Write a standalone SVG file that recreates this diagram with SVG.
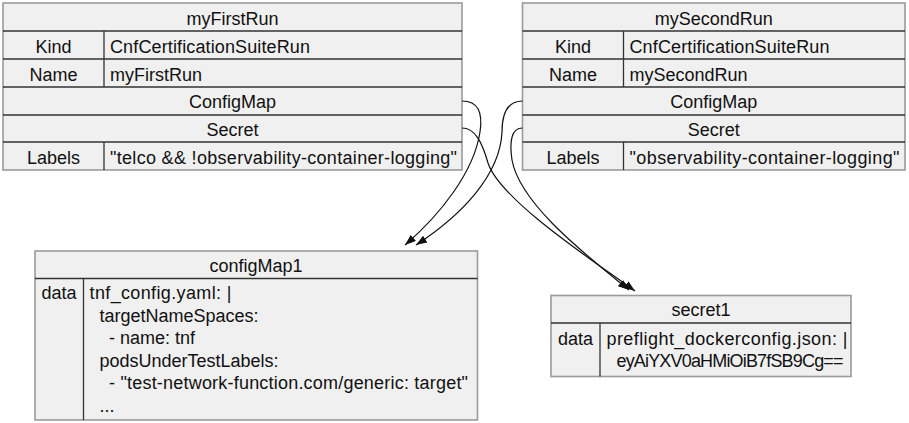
<svg xmlns="http://www.w3.org/2000/svg" width="909" height="423" viewBox="0 0 909 423">
<defs>
<style>
.box{fill:#f0f0f0;stroke:#9a9a9a;stroke-width:1.6}
.ln{stroke:#333;stroke-width:1.3;fill:none}
text{font-family:"Liberation Sans",Arial,sans-serif;font-size:18px;fill:#111}
.c{text-anchor:middle}
.e{fill:none;stroke:#111;stroke-width:1.2}
</style>
<marker id="ah" markerUnits="userSpaceOnUse" markerWidth="12" markerHeight="9" refX="11" refY="4" orient="auto">
<path d="M0,0 L11,4 L0,8 z" fill="#111"/>
</marker>
</defs>
<rect width="909" height="423" fill="#fff"/>
<g id="myFirstRun">
<rect class="box" x="3" y="3" width="459" height="167"/>
<path class="ln" d="M3,31H462M3,59H462M3,87H462M3,115H462M3,142H462M104,31V87M104,142V170"/>
<text class="c" x="232.5" y="24.5">myFirstRun</text>
<text class="c" x="53.5" y="52.5">Kind</text>
<text x="110" y="52.5" textLength="200" lengthAdjust="spacing">CnfCertificationSuiteRun</text>
<text class="c" x="53.5" y="80.5">Name</text>
<text x="110" y="80.5">myFirstRun</text>
<text class="c" x="232.5" y="108">ConfigMap</text>
<text class="c" x="232.5" y="135.5">Secret</text>
<text class="c" x="53.5" y="163.5">Labels</text>
<text x="110" y="163.5" textLength="347" lengthAdjust="spacing">"telco &amp;&amp; !observability-container-logging"</text>
</g>
<g id="mySecondRun">
<rect class="box" x="522.5" y="3" width="382.5" height="167"/>
<path class="ln" d="M522.5,31H905M522.5,59H905M522.5,87H905M522.5,115H905M522.5,142H905M623.5,31V87M623.5,142V170"/>
<text class="c" x="713.75" y="24.5">mySecondRun</text>
<text class="c" x="573" y="52.5">Kind</text>
<text x="629.5" y="52.5" textLength="200" lengthAdjust="spacing">CnfCertificationSuiteRun</text>
<text class="c" x="573" y="80.5">Name</text>
<text x="629.5" y="80.5">mySecondRun</text>
<text class="c" x="713.75" y="108">ConfigMap</text>
<text class="c" x="713.75" y="135.5">Secret</text>
<text class="c" x="573" y="163.5">Labels</text>
<text x="629.5" y="163.5" textLength="270" lengthAdjust="spacing">"observability-container-logging"</text>
</g>
<g id="configMap1">
<rect class="box" x="35" y="251" width="442.5" height="169"/>
<path class="ln" d="M35,278.5H477.5M83.5,278.5V420"/>
<text class="c" x="256" y="272">configMap1</text>
<text class="c" x="59" y="299">data</text>
<text x="89.5" y="299" textLength="142" lengthAdjust="spacing">tnf_config.yaml: |</text>
<text x="99.5" y="321.5">targetNameSpaces:</text>
<text x="109" y="344">- name: tnf</text>
<text x="99.5" y="366.5">podsUnderTestLabels:</text>
<text x="109" y="389" textLength="359" lengthAdjust="spacing">- "test-network-function.com/generic: target"</text>
<text x="99.5" y="411.5">...</text>
</g>
<g id="secret1">
<rect class="box" x="551" y="295.5" width="300" height="81"/>
<path class="ln" d="M551,323H851M600,323V376.5"/>
<text class="c" x="701" y="316">secret1</text>
<text class="c" x="575.5" y="344.5">data</text>
<text x="606.5" y="344.5" textLength="241" lengthAdjust="spacing">preflight_dockerconfig.json: |</text>
<text x="616.5" y="367" textLength="227" lengthAdjust="spacing">eyAiYXV0aHMiOiB7fSB9Cg==</text>
</g>
<g id="connectors">
<path class="e" marker-end="url(#ah)" d="M462,101 C478,101 483,112 480,132 C474,172 440,215 405,245"/>
<path class="e" marker-end="url(#ah)" d="M522.5,101 C508,101 502,112 502,132 C500,175 462,215 416,245"/>
<path class="e" marker-end="url(#ah)" d="M462,128 C475,128 482,142 488,163 C500,200 595,262 635,291"/>
<path class="e" marker-end="url(#ah)" d="M522.5,128 C512,128 509,140 512,160 C520,205 590,258 629,290"/>
</g>
</svg>
